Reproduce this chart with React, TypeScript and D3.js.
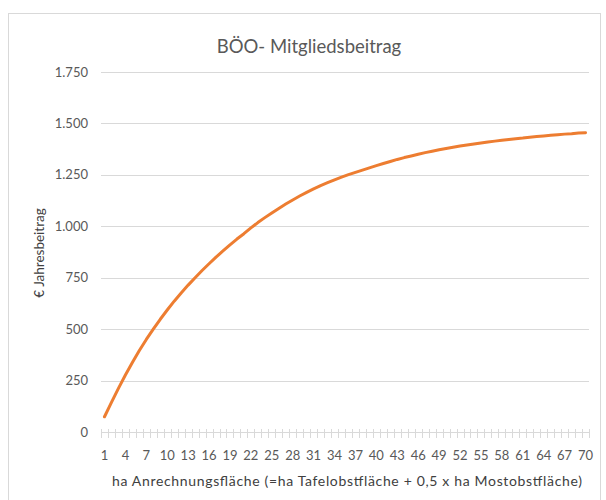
import React from 'react'
import { scaleBand, scaleLinear, line } from 'd3'

const categories = Array.from({ length: 70 }, (_, i) => String(i + 1))
const beitrag = [
  74, 144, 212, 277, 338, 396, 450, 500, 548, 593,
  636, 676, 714, 750, 785, 818, 850, 880, 910, 938,
  964, 992, 1018, 1042, 1065, 1087, 1108, 1128, 1147, 1165,
  1182, 1198, 1212, 1226, 1239, 1251, 1262, 1273, 1284, 1295,
  1305, 1315, 1325, 1334, 1342, 1350, 1358, 1365, 1372, 1378,
  1384, 1390, 1395, 1400, 1405, 1410, 1414, 1418, 1422, 1426,
  1429, 1433, 1436, 1439, 1442, 1445, 1448, 1450, 1453, 1455,
]
const yTicks = [0, 250, 500, 750, 1000, 1250, 1500, 1750]
const xTickLabels = categories.filter((_, i) => i % 3 === 0)

const title = 'BÖO- Mitgliedsbeitrag'
const yTitle = '€ Jahresbeitrag'
const xTitle = 'ha Anrechnungsfläche (=ha Tafelobstfläche + 0,5 x ha Mostobstfläche)'

const W = 606
const H = 500
const left = 101
const right = 589
const top = 72
const bottom = 432
const font = 'Lato, "Open Sans", sans-serif'
const textColor = '#595959'
const gridColor = '#d9d9d9'

// de-AT style thousands separator
const fmt = (v: number) => String(v).replace(/\B(?=(\d{3})+(?!\d))/g, '.')

export default function App() {
  const x = scaleBand().domain(categories).range([left, right])
  const y = scaleLinear().domain([0, 1750]).range([bottom, top])
  const bw = x.bandwidth()

  const path = line<number>()
    .x((_, i) => (x(categories[i]) as number) + bw / 2)
    .y((d) => y(d))(beitrag)

  const boundaries = categories.map((c) => x(c) as number).concat([right])

  return (
    <svg width={W} height={H} style={{ position: 'absolute', left: 0, top: 0, background: '#fff' }}>
      <rect x={8.5} y={13.5} width={592} height={500} fill="#fff" stroke={gridColor} />

      <text x={309} y={53} textAnchor="middle" fontFamily={font} fontSize={18.5} fill={textColor}>
        {title}
      </text>

      {yTicks.map((t) => (
        <g key={t}>
          {t > 0 && (
            <line x1={left} x2={right} y1={Math.round(y(t)) + 0.5} y2={Math.round(y(t)) + 0.5} stroke={gridColor} />
          )}
          <text x={88} y={y(t)} dy="0.35em" textAnchor="end" fontFamily={font} fontSize={13} fill={textColor}>
            {fmt(t)}
          </text>
        </g>
      ))}

      <line x1={left} x2={right} y1={bottom + 0.5} y2={bottom + 0.5} stroke={gridColor} />
      {boundaries.map((b, i) => (
        <line key={i} x1={Math.round(b) + 0.5} x2={Math.round(b) + 0.5} y1={bottom - 3} y2={bottom + 6} stroke={gridColor} />
      ))}

      {xTickLabels.map((c) => (
        <text
          key={c}
          x={(x(c) as number) + bw / 2}
          y={455}
          dy="0.35em"
          textAnchor="middle"
          fontFamily={font}
          fontSize={13}
          fill={textColor}
        >
          {c}
        </text>
      ))}

      <text
        transform="translate(44,253) rotate(-90)"
        textAnchor="middle"
        fontFamily={font}
        fontSize={13.5}
        fill="#404040"
      >
        {yTitle}
      </text>

      <text
        x={347}
        y={486}
        textAnchor="middle"
        fontFamily={font}
        fontSize={14}
        fill="#404040"
        textLength={470}
        lengthAdjust="spacing"
      >
        {xTitle}
      </text>

      <path d={path || ''} fill="none" stroke="#ED7D31" strokeWidth={3} strokeLinecap="round" strokeLinejoin="round" />
    </svg>
  )
}
